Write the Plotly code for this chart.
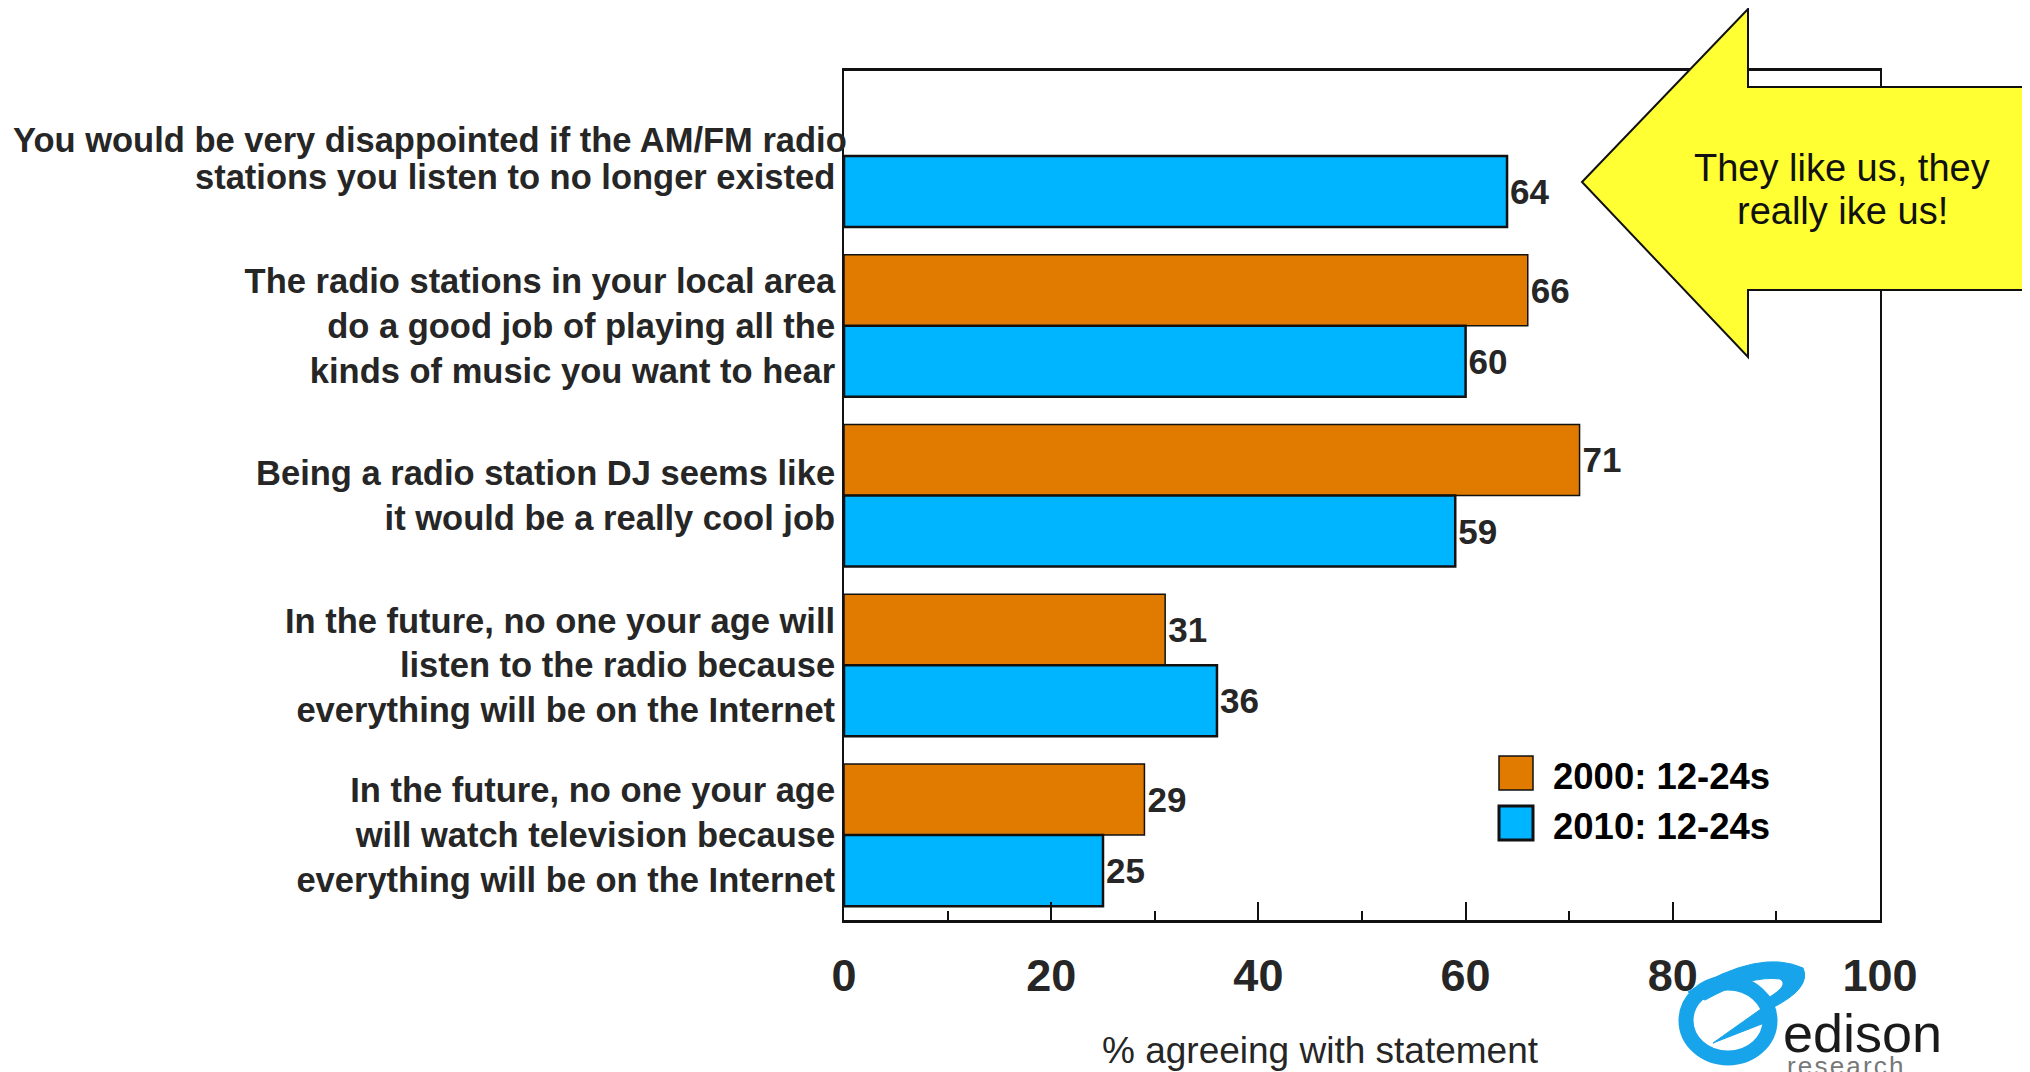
import plotly.graph_objects as go

categories = [
    "You would be very disappointed if the AM/FM radio<br>stations you listen to no longer existed",
    "The radio stations in your local area<br>do a good job of playing all the<br>kinds of music you want to hear",
    "Being a radio station DJ seems like<br>it would be a really cool job",
    "In the future, no one your age will<br>listen to the radio because<br>everything will be on the Internet",
    "In the future, no one your age<br>will watch television because<br>everything will be on the Internet",
]
series_names = ["2000: 12-24s", "2010: 12-24s"]
values_2000 = [None, 66, 71, 31, 29]
values_2010 = [64, 60, 59, 36, 25]
x_ticks = [0, 20, 40, 60, 80, 100]
axis_title = "% agreeing with statement"
callout_lines = ["They like us, they", "really ike us!"]

ORANGE = "#E07B00"
BLUE = "#00B5FF"
LOGO = "#17A4EA"
TXT = "#262626"
FONT = "Liberation Sans, Arial, sans-serif"
CAT_FONT = dict(family=FONT, size=34.5, color=TXT, weight="bold")

OFF = 8  # browser body margin
W, H = 2030, 1072
PL, PT, PW, PH = 844, 71, 1036, 849  # plot area in page pixels
L, T = PL - OFF, PT - OFF
R, B = W - L - PW, H - T - PH


def px(x):
    return (x - PL) / PW


def py(y):
    return (PT + PH - y) / PH


def pth(points, close=True):
    s = "M " + " L ".join(f"{px(x):.5f},{py(y):.5f}" for x, y in points)
    return s + (" Z" if close else "")


fig = go.Figure()
for name, vals, col, lw in [
    (series_names[0], values_2000, ORANGE, 1.5),
    (series_names[1], values_2010, BLUE, 2.5),
]:
    fig.add_trace(go.Bar(
        y=categories, x=vals, orientation="h", name=name,
        marker=dict(color=col, line=dict(color="#111111", width=lw)),
        text=[("" if v is None else str(v)) for v in vals],
        textposition="outside", cliponaxis=False, constraintext="none",
        textfont=dict(family=FONT, size=35, color=TXT, weight="bold"),
        hoverinfo="skip", showlegend=False,
    ))

fig.update_layout(
    width=W, height=H,
    margin=dict(l=L, r=R, t=T, b=B, autoexpand=False),
    paper_bgcolor="white", plot_bgcolor="white",
    barmode="group", bargap=0.163, bargroupgap=0,
    font=dict(family=FONT, color=TXT),
    showlegend=False,
)
fig.update_xaxes(
    range=[0, 100], tickvals=x_ticks, ticks="inside", ticklen=18, tickwidth=1.5,
    tickcolor="#111111", showgrid=False, zeroline=False,
    showline=True, linecolor="#111111", linewidth=2.5, mirror=True,
    tickfont=dict(family=FONT, size=45, color=TXT, weight="bold"),
    ticklabelstandoff=14,
    minor=dict(dtick=10, ticks="inside", ticklen=9, tickwidth=1.5, tickcolor="#111111", showgrid=False),
)
# first category is set as two separately placed lines (tighter spacing, first line overruns the axis)
fig.update_yaxes(
    autorange="reversed", showgrid=False, zeroline=False, ticks="",
    showline=True, linecolor="#111111", linewidth=2, mirror=True,
    tickmode="array", tickvals=categories, ticktext=[""] + categories[1:],
    tickfont=CAT_FONT, ticklabelstandoff=0,
)
for line_text, xr, yy in zip(categories[0].split("<br>"), [849, 837], [140, 177]):
    fig.add_annotation(x=px(xr), y=py(yy), xref="paper", yref="paper", text=line_text,
                       showarrow=False, xanchor="right", yanchor="middle", font=CAT_FONT)

# callout arrow (drawn above the plot frame)
arrow = [(1582, 182), (1748, 9), (1748, 87), (2060, 87), (2060, 290), (1748, 290), (1748, 357)]
fig.add_shape(type="path", path=pth(arrow), xref="paper", yref="paper",
              fillcolor="#FFFF33", line=dict(color="#111111", width=2), layer="above")
for line_text, yy in zip(callout_lines, [168, 211]):
    fig.add_annotation(x=px(1842), y=py(yy), xref="paper", yref="paper", text=line_text,
                       showarrow=False, font=dict(family=FONT, size=38, color="#111111"),
                       xanchor="center", yanchor="middle")

# legend
leg = [(series_names[0], ORANGE, 756, 1.5), (series_names[1], BLUE, 806, 3)]
for name, col, y0, lw in leg:
    fig.add_shape(type="rect", xref="paper", yref="paper",
                  x0=px(1499), x1=px(1533), y0=py(y0), y1=py(y0 + 34),
                  fillcolor=col, line=dict(color="#111111", width=lw))
    fig.add_annotation(x=px(1551), y=py(y0 + 20), xref="paper", yref="paper", text=name,
                       showarrow=False, xanchor="left", yanchor="middle",
                       font=dict(family=FONT, size=36.5, color="#000000", weight="bold"))

# axis title
fig.add_annotation(x=px(1320), y=py(1050), xref="paper", yref="paper", text=axis_title,
                   showarrow=False, xanchor="center", yanchor="middle",
                   font=dict(family=FONT, size=37, color=TXT))

# logo (approximate)
fig.add_shape(type="circle", xref="paper", yref="paper",
              x0=px(1686), x1=px(1770), y0=py(983), y1=py(1058),
              line=dict(color=LOGO, width=15), fillcolor="rgba(0,0,0,0)")
orbit = (f"M {px(1688):.5f},{py(992):.5f} Q {px(1760):.5f},{py(948):.5f} {px(1803):.5f},{py(968):.5f} "
         f"Q {px(1812):.5f},{py(988):.5f} {px(1772):.5f},{py(1008):.5f} L {px(1768):.5f},{py(998):.5f} "
         f"Q {px(1790):.5f},{py(985):.5f} {px(1780):.5f},{py(979):.5f} "
         f"Q {px(1750):.5f},{py(975):.5f} {px(1705):.5f},{py(1000):.5f} Z")
fig.add_shape(type="path", xref="paper", yref="paper", path=orbit,
              fillcolor=LOGO, line=dict(color=LOGO, width=1))
fig.add_shape(type="path", xref="paper", yref="paper",
              path=pth([(1713, 1043), (1768, 1004), (1772, 1020)]),
              fillcolor=LOGO, line=dict(color=LOGO, width=1))
fig.add_annotation(x=px(1781), y=py(1033), xref="paper", yref="paper", text="edison",
                   showarrow=False, xanchor="left", yanchor="middle",
                   font=dict(family=FONT, size=54, color="#1a1a1a"))
fig.add_annotation(x=px(1785), y=py(1066), xref="paper", yref="paper",
                   text="\u200a".join("research"),
                   showarrow=False, xanchor="left", yanchor="middle",
                   font=dict(family=FONT, size=26, color="#777777"))

fig.write_html("out.html")
